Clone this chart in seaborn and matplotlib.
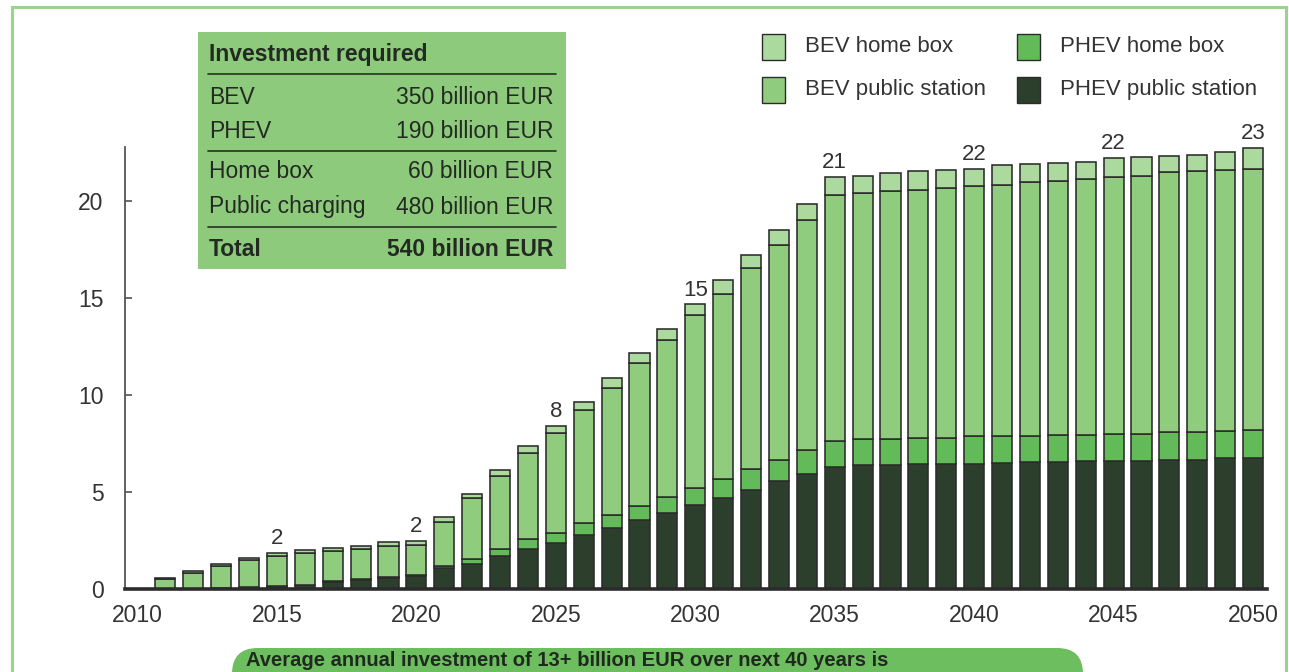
import numpy as np
import pandas as pd
import matplotlib
matplotlib.use("Agg")
import matplotlib.pyplot as plt
import seaborn as sns
from matplotlib.patches import Rectangle, FancyBboxPatch

# Annual charging-infrastructure investment, billion EUR, by segment
years = list(range(2011, 2051))
phev_public = [0.00, 0.02, 0.04, 0.08, 0.12, 0.20, 0.38, 0.48, 0.58, 0.67,
               1.07, 1.31, 1.70, 2.05, 2.39, 2.78, 3.16, 3.54, 3.93, 4.31,
               4.71, 5.09, 5.57, 5.91, 6.29, 6.38, 6.38, 6.43, 6.46, 6.46,
               6.51, 6.53, 6.55, 6.58, 6.61, 6.61, 6.66, 6.66, 6.75, 6.75]
phev_home = [0.00, 0.00, 0.01, 0.01, 0.02, 0.03, 0.04, 0.05, 0.06, 0.07,
             0.10, 0.25, 0.35, 0.51, 0.51, 0.62, 0.65, 0.74, 0.83, 0.91,
             0.94, 1.11, 1.06, 1.24, 1.34, 1.34, 1.34, 1.37, 1.34, 1.43,
             1.38, 1.37, 1.37, 1.38, 1.40, 1.40, 1.44, 1.44, 1.42, 1.43]
bev_public = [0.50, 0.83, 1.15, 1.40, 1.57, 1.62, 1.56, 1.54, 1.60, 1.55,
              2.30, 3.11, 3.77, 4.47, 5.13, 5.81, 6.57, 7.38, 8.11, 8.90,
              9.59, 10.35, 11.14, 11.87, 12.68, 12.69, 12.83, 12.80, 12.89, 12.88,
              12.97, 13.08, 13.15, 13.17, 13.22, 13.30, 13.39, 13.47, 13.44, 13.50]
bev_home = [0.05, 0.08, 0.10, 0.12, 0.13, 0.14, 0.15, 0.15, 0.17, 0.18,
            0.23, 0.24, 0.30, 0.34, 0.37, 0.45, 0.48, 0.52, 0.52, 0.56,
            0.71, 0.70, 0.77, 0.84, 0.93, 0.88, 0.91, 0.95, 0.92, 0.91,
            1.00, 0.94, 0.91, 0.92, 0.99, 0.99, 0.86, 0.83, 0.94, 1.05]
labelled_years = [2015, 2020, 2025, 2030, 2035, 2040, 2045, 2050]

segment_names = ["PHEV public station", "PHEV home box", "BEV public station", "BEV home box"]
segment_values = [phev_public, phev_home, bev_public, bev_home]
segment_colors = ["#2c3f2d", "#62bb58", "#90cc7e", "#acd99e"]

legend_names = ["BEV home box", "BEV public station", "PHEV home box", "PHEV public station"]

table_rows = ["BEV", "PHEV", "Home box", "Public charging"]
table_values = ["350 billion EUR", "190 billion EUR", "60 billion EUR", "480 billion EUR"]
table_title = "Investment required"
table_total = ("Total", "540 billion EUR")

footer_text = "Average annual investment of 13+ billion EUR over next 40 years is"

sns.set_theme(style="white")
plt.rcParams["font.family"] = ["Liberation Sans", "DejaVu Sans"]

W, H = 1289, 672
fig = plt.figure(figsize=(W / 100, H / 100), dpi=100)
fig.patch.set_facecolor("white")


def fx(px):
    return px / W


def fy(py):
    return 1 - py / H


ax = fig.add_axes([fx(125), fy(589), fx(1267) - fx(125), fy(147) - fy(589)])
ax.set_facecolor("white")

edge = "#2b2b2b"
bottom = np.zeros(len(years))
for name, vals, col in zip(segment_names, segment_values, segment_colors):
    df = pd.DataFrame({"year": years, "value": vals})
    sns.barplot(data=df, x="year", y="value", native_scale=True, width=0.72,
                color=col, saturation=1, errorbar=None, bottom=bottom.copy(),
                edgecolor=edge, linewidth=1.15, ax=ax)
    bottom = bottom + np.array(vals)

# Rounded totals above selected bars
for yr in labelled_years:
    total = bottom[years.index(yr)]
    ax.text(yr, total + 0.2, f"{round(total):d}", ha="center", va="bottom",
            fontsize=16, color="#333333")

ax.set_xlim(2009.55, 2050.5)
ax.set_ylim(0, 22.8)
ax.set_xticks([2010, 2015, 2020, 2025, 2030, 2035, 2040, 2045, 2050])
ax.set_yticks([0, 5, 10, 15, 20])
ax.set_xlabel("")
ax.set_ylabel("")
ax.tick_params(axis="x", length=0, pad=10.5, labelsize=16.5, labelcolor="#333333")
ax.tick_params(axis="y", direction="in", length=5, width=1.1, color="#444444",
               pad=15.5, labelsize=16.5, labelcolor="#333333", left=True)
for s in ["top", "right"]:
    ax.spines[s].set_visible(False)
ax.spines["left"].set_color("#555555")
ax.spines["left"].set_linewidth(1.3)
ax.spines["bottom"].set_color("#2b2b2b")
ax.spines["bottom"].set_linewidth(2.6)
ax.grid(False)

# Outer frame
fig.patches.append(Rectangle((fx(12), fy(700)), fx(1286) - fx(12), fy(7) - fy(700),
                             transform=fig.transFigure, fill=False,
                             edgecolor="#98d48e", linewidth=2.2, zorder=0))

# Investment table
fig.patches.append(Rectangle((fx(198), fy(269)), fx(566) - fx(198), fy(32) - fy(269),
                             transform=fig.transFigure, facecolor="#8dca7c",
                             edgecolor="none", zorder=1))
tx_left, tx_right = fx(209), fx(553)
ink = "#222a22"
fig.text(tx_left, fy(55), table_title, fontsize=16.5, fontweight="bold",
         color=ink, va="center", ha="left")
row_y = [97, 131, 172, 207]
for label, val, py in zip(table_rows, table_values, row_y):
    fig.text(tx_left, fy(py), label, fontsize=16.5, color=ink, va="center", ha="left")
    fig.text(tx_right, fy(py), val, fontsize=16.5, color=ink, va="center", ha="right")
fig.text(tx_left, fy(249), table_total[0], fontsize=16.5, fontweight="bold",
         color=ink, va="center", ha="left")
fig.text(tx_right, fy(249), table_total[1], fontsize=16.5, fontweight="bold",
         color=ink, va="center", ha="right")
for py in [74, 151, 227]:
    fig.add_artist(plt.Line2D([fx(208), fx(556)], [fy(py), fy(py)],
                              transform=fig.transFigure, color="#24331f", linewidth=1.2))

# Legend
legend_pos = [(762, 47), (762, 90), (1017, 47), (1017, 90)]
color_of = dict(zip(segment_names, segment_colors))
for name, (px, py) in zip(legend_names, legend_pos):
    fig.patches.append(Rectangle((fx(px), fy(py + 13)), fx(px + 23) - fx(px), fy(py - 13) - fy(py + 13),
                                 transform=fig.transFigure, facecolor=color_of[name],
                                 edgecolor="#2b2b2b", linewidth=1.0))
    fig.text(fx(px + 43), fy(py), name, fontsize=16, color="#333333", va="center", ha="left")

# Footer banner
fig.patches.append(FancyBboxPatch((fx(232), fy(720)), fx(1083) - fx(232), fy(648) - fy(720),
                                  boxstyle="round,pad=0,rounding_size=0.02",
                                  transform=fig.transFigure, facecolor="#6cbe5f",
                                  edgecolor="none", mutation_aspect=W / H))
fig.text(fx(246), fy(660), footer_text, fontsize=14.5, fontweight="bold",
         color="#1f2a1f", va="center", ha="left")

fig.savefig("out.png", dpi=100)
